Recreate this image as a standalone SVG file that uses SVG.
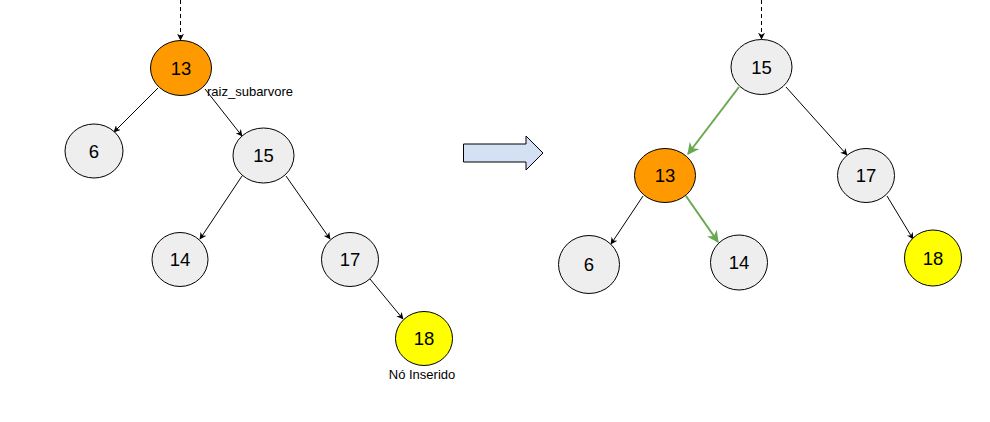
<svg xmlns="http://www.w3.org/2000/svg" width="990" height="422" viewBox="0 0 990 422">
  <style>
    .node ellipse { stroke: #000; stroke-width: 1; }
    .plain { fill: #eeeeee; }
    .pivot { fill: #ff9900; }
    .added { fill: #ffff00; }
    .node text { font-family: "Liberation Sans", Arial, sans-serif; font-size: 18.5px; fill: #000; text-anchor: middle; dominant-baseline: central; }
    .label { font-family: "Liberation Sans", Arial, sans-serif; font-size: 13px; fill: #000; }
    .edge { stroke: #000; stroke-width: 1; fill: none; marker-end: url(#arrow); }
    .edge.green { stroke: #6aa84f; stroke-width: 2; marker-end: url(#arrowGreen); }
    .edge.dashed { stroke-dasharray: 4 3; }
  </style>
  <defs>
    <marker id="arrow" viewBox="0 0 10 10" refX="9" refY="5" markerWidth="7" markerHeight="7" markerUnits="userSpaceOnUse" orient="auto">
      <path d="M0,0 L10,5 L0,10 L3,5 Z" fill="#000"/>
    </marker>
    <marker id="arrowGreen" viewBox="0 0 10 10" refX="9" refY="5" markerWidth="12" markerHeight="12" markerUnits="userSpaceOnUse" orient="auto">
      <path d="M0,0 L10,5 L0,10 L3,5 Z" fill="#6aa84f"/>
    </marker>
  </defs>

  <!-- connectors -->
  <g id="connectors">
    <!-- before rotation -->
    <line class="edge dashed" x1="180.5" y1="0" x2="180.5" y2="40"/>
    <line class="edge" x1="158" y1="88" x2="114" y2="132"/>
    <line class="edge" x1="205" y1="89" x2="242" y2="136"/>
    <line class="edge" x1="242" y1="176" x2="200" y2="239"/>
    <line class="edge" x1="286" y1="176" x2="330" y2="239"/>
    <line class="edge" x1="370" y1="279" x2="403" y2="319"/>
    <!-- after rotation -->
    <line class="edge dashed" x1="761.5" y1="0" x2="761.5" y2="39"/>
    <line class="edge green" x1="739" y1="87" x2="688" y2="154"/>
    <line class="edge" x1="786" y1="87" x2="847" y2="155"/>
    <line class="edge" x1="643" y1="196" x2="611" y2="244"/>
    <line class="edge green" x1="686" y1="196" x2="718" y2="242"/>
    <line class="edge" x1="887" y1="196" x2="913" y2="239"/>
  </g>

  <!-- transition arrow -->
  <g id="transition">
    <path d="M463.5,144 L526,144 L526,136 L543,153 L526,170 L526,162 L463.5,162 Z" fill="#d4e1f5" stroke="#000" stroke-width="1"/>
  </g>

  <!-- tree before rotation -->
  <g id="l13" class="node"><ellipse class="pivot" cx="181" cy="68" rx="30.5" ry="27.5"/><text x="181" y="68">13</text></g>
  <text class="label" x="207" y="96">raiz_subarvore</text>
  <g id="l6" class="node"><ellipse class="plain" cx="94" cy="151" rx="29" ry="27"/><text x="94" y="151">6</text></g>
  <g id="l15" class="node"><ellipse class="plain" cx="263.5" cy="155.5" rx="30.5" ry="27.5"/><text x="263.5" y="155.5">15</text></g>
  <g id="l14" class="node"><ellipse class="plain" cx="180" cy="259.5" rx="28" ry="27"/><text x="180" y="259.5">14</text></g>
  <g id="l17" class="node"><ellipse class="plain" cx="350" cy="259.5" rx="28.5" ry="27"/><text x="350" y="259.5">17</text></g>
  <g id="l18" class="node"><ellipse class="added" cx="424" cy="338.5" rx="28.5" ry="27"/><text x="424" y="338.5">18</text></g>
  <text class="label" x="422" y="379" text-anchor="middle">Nó Inserido</text>

  <!-- tree after rotation -->
  <g id="r15" class="node"><ellipse class="plain" cx="761.5" cy="67" rx="30.5" ry="27.5"/><text x="761.5" y="67">15</text></g>
  <g id="r13" class="node"><ellipse class="pivot" cx="665" cy="175.5" rx="30.5" ry="27"/><text x="665" y="175.5">13</text></g>
  <g id="r17" class="node"><ellipse class="plain" cx="866" cy="175.5" rx="28.5" ry="27"/><text x="866" y="175.5">17</text></g>
  <g id="r6" class="node"><ellipse class="plain" cx="589" cy="264.5" rx="30.5" ry="29"/><text x="589" y="264.5">6</text></g>
  <g id="r14" class="node"><ellipse class="plain" cx="739" cy="262.5" rx="28.5" ry="27.5"/><text x="739" y="262.5">14</text></g>
  <g id="r18" class="node"><ellipse class="added" cx="933" cy="258" rx="28.5" ry="28"/><text x="933" y="258">18</text></g>
</svg>
